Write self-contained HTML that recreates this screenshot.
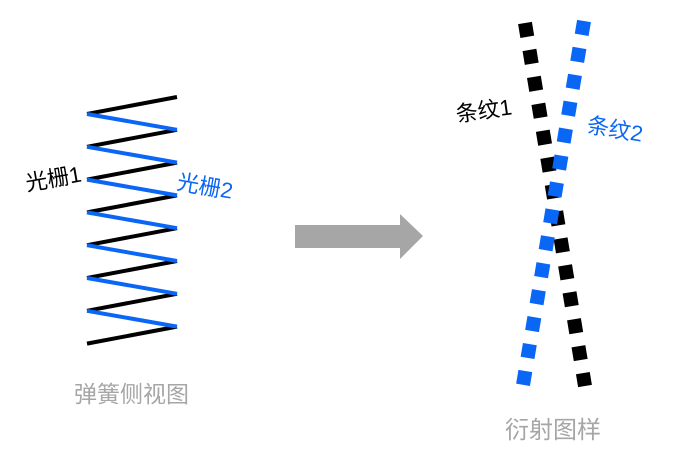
<!DOCTYPE html>
<html><head><meta charset="utf-8"><style>
html,body{margin:0;padding:0;background:#fff;}
svg{display:block;}
text{font-family:"Liberation Sans","Noto Sans CJK SC",sans-serif;}
</style></head><body>
<svg width="692" height="454" viewBox="0 0 692 454" xmlns="http://www.w3.org/2000/svg">
<g stroke-width="4" stroke-linecap="butt" fill="none">
<g stroke="#000">
<line x1="87" y1="114" x2="177" y2="97"/>
<line x1="87" y1="146.8" x2="177" y2="129.8"/>
<line x1="87" y1="179.6" x2="177" y2="162.6"/>
<line x1="87" y1="212.4" x2="177" y2="195.4"/>
<line x1="87" y1="245.2" x2="177" y2="228.2"/>
<line x1="87" y1="278" x2="177" y2="261"/>
<line x1="87" y1="310.8" x2="177" y2="293.8"/>
<line x1="87" y1="343.6" x2="177" y2="326.6"/>
</g>
<g stroke="#0a66f5">
<line x1="87" y1="114" x2="177" y2="129.8"/>
<line x1="87" y1="146.8" x2="177" y2="162.6"/>
<line x1="87" y1="179.6" x2="177" y2="195.4"/>
<line x1="87" y1="212.4" x2="177" y2="228.2"/>
<line x1="87" y1="245.2" x2="177" y2="261"/>
<line x1="87" y1="278" x2="177" y2="293.8"/>
<line x1="87" y1="310.8" x2="177" y2="326.6"/>
</g>
</g>
<text x="27" y="191" font-size="22" fill="#000" transform="rotate(-10 27 191)">光栅1</text>
<text x="176" y="189" font-size="22" fill="#0a66f5" transform="rotate(10 176 189)">光栅2</text>
<polygon points="295,225 400,225 400,214 423,236 400,259 400,248 295,248" fill="#a6a6a6"/>
<line x1="525" y1="23" x2="585" y2="386" stroke="#000" stroke-width="14" stroke-dasharray="14 13.3"/>
<line x1="584" y1="21" x2="523" y2="385" stroke="#0a66f5" stroke-width="14" stroke-dasharray="14 13.3"/>
<text x="457" y="122" font-size="22" fill="#000" transform="rotate(-8 457 122)">条纹1</text>
<text x="586" y="132" font-size="22" fill="#0a66f5" transform="rotate(10 586 132)">条纹2</text>
<text x="74" y="402" font-size="23" fill="#a6a6a6">弹簧侧视图</text>
<text x="505" y="438" font-size="24" fill="#a6a6a6">衍射图样</text>
</svg>
</body></html>
